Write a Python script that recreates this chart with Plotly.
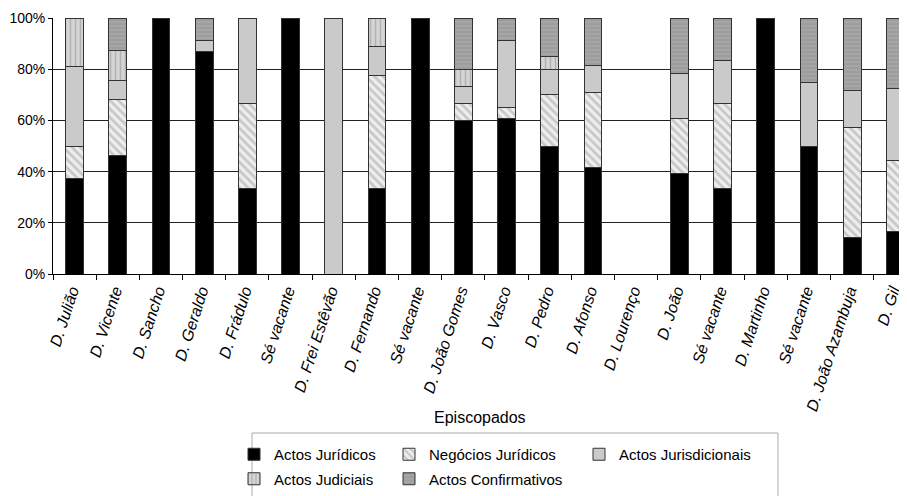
import plotly.graph_objects as go

categories = ["D. Julião", "D. Vicente", "D. Sancho", "D. Geraldo", "D. Frádulo",
              "Sé vacante", "D. Frei Estêvão", "D. Fernando", "Sé vacante", "D. João Gomes",
              "D. Vasco", "D. Pedro", "D. Afonso", "D. Lourenço", "D. João",
              "Sé vacante", "D. Martinho", "Sé vacante", "D. João Azambuja", "D. Gil"]

actos_juridicos =      [37.5, 46.3, 100, 87.0, 33.3, 100, 0, 33.3, 100, 60.0, 60.9, 50.0, 41.7, 0, 39.1, 33.3, 100, 50.0, 14.3, 16.7]
negocios_juridicos =   [12.5, 22.0, 0, 0, 33.3, 0, 0, 44.4, 0, 6.7, 4.3, 20.0, 29.2, 0, 21.7, 33.3, 0, 0, 42.9, 27.8]
actos_jurisdicionais = [31.25, 7.3, 0, 4.3, 33.4, 0, 100, 11.1, 0, 6.7, 26.1, 10.0, 10.4, 0, 17.4, 16.7, 0, 25.0, 14.3, 27.8]
actos_judiciais =      [18.75, 11.6, 0, 0, 0, 0, 0, 11.2, 0, 6.6, 0, 5.0, 0, 0, 0, 0, 0, 0, 0, 0]
actos_confirmativos =  [0, 12.8, 0, 8.7, 0, 0, 0, 0, 0, 20.0, 8.7, 15.0, 18.7, 0, 21.8, 16.7, 0, 25.0, 28.5, 27.7]

x = list(range(len(categories)))
FONT = "Arial, Liberation Sans, sans-serif"
line = dict(color="#333333", width=1)

fig = go.Figure()
fig.add_trace(go.Bar(x=x, y=actos_juridicos, name="Actos Jurídicos", legend="legend",
                     legendgroup="g1", marker=dict(color="#000000", line=line)))
fig.add_trace(go.Bar(x=x, y=negocios_juridicos, name="Negócios Jurídicos", legend="legend2",
                     legendgroup="g2",
                     marker=dict(color="#ffffff", line=line,
                                 pattern=dict(shape="\\", fgcolor="#a0a0a0", bgcolor="#eeeeee",
                                              size=6, solidity=0.45))))
fig.add_trace(go.Bar(x=x, y=actos_jurisdicionais, name="Actos Jurisdicionais", legend="legend3",
                     legendgroup="g3", marker=dict(color="#cacaca", line=line)))
fig.add_trace(go.Bar(x=x, y=actos_judiciais, name="Actos Judiciais", legend="legend",
                     legendgroup="g4",
                     marker=dict(color="#d0d0d0", line=line,
                                 pattern=dict(shape="|", fgcolor="#909090", bgcolor="#d4d4d4",
                                              size=5, solidity=0.3))))
fig.add_trace(go.Bar(x=x, y=actos_confirmativos, name="Actos Confirmativos", legend="legend2",
                     legendgroup="g5",
                     marker=dict(color="#a4a4a4", line=line,
                                 pattern=dict(shape="-", fgcolor="#8e8e8e", bgcolor="#a6a6a6",
                                              size=4, solidity=0.4))))

legend_common = dict(font=dict(family=FONT, size=15, color="#000"), bgcolor="rgba(0,0,0,0)",
                     orientation="v", xanchor="left", yanchor="top", tracegroupgap=2,
                     traceorder="grouped")

# page has an 8px body margin: the figure starts at (8, 8) in the window
OFF = 8
TOP = 18      # page y of the 100% line
BOTTOM = 274  # page y of the 0% line
LEFT = 53
PW = 854.0

def px_x(p):
    return (p - LEFT) / PW

def px_y(p):
    return (BOTTOM - p) / float(BOTTOM - TOP)

fig.update_layout(
    width=907 - OFF, height=496 - OFF,
    margin=dict(l=LEFT - OFF, r=0, t=TOP - OFF, b=496 - BOTTOM),
    paper_bgcolor="white", plot_bgcolor="white",
    barmode="stack", bargap=0.59,
    font=dict(family=FONT, size=14, color="#000"),
    showlegend=True,
    legend=dict(x=px_x(234), y=px_y(438), **legend_common),
    legend2=dict(x=px_x(389), y=px_y(438), **legend_common),
    legend3=dict(x=px_x(579), y=px_y(438), **legend_common),
    xaxis=dict(range=[-0.5, 19.27], tickmode="array", tickvals=x, ticktext=categories,
               tickangle=-72, ticks="", showgrid=False, showline=True, linecolor="#000",
               linewidth=1, tickfont=dict(family=FONT, size=16, color="#000", style="italic"),
               ticklabeloverflow="allow", ticklabelshift=-3,
               minor=dict(tick0=-0.5, dtick=1, ticks="outside", ticklen=5, tickcolor="#000",
                          showgrid=False),
               zeroline=False, automargin=False),
    yaxis=dict(range=[0, 100], dtick=20, ticksuffix="%", showgrid=True, gridcolor="#222",
               gridwidth=1, showline=True, linecolor="#000", linewidth=1, ticks="outside",
               ticklen=4, tickcolor="#000", zeroline=False, automargin=False,
               ticklabeloverflow="allow",
               tickfont=dict(family=FONT, size=14, color="#000")),
    annotations=[dict(text="Episcopados", xref="paper", yref="paper", x=0.5, y=px_y(417),
                      xanchor="center", yanchor="middle", showarrow=False,
                      font=dict(family=FONT, size=16, color="#000"))],
    shapes=[dict(type="rect", xref="paper", yref="paper", x0=px_x(252), x1=px_x(778),
                 y0=px_y(433), y1=px_y(530), line=dict(color="#aaaaaa", width=1),
                 fillcolor="rgba(0,0,0,0)", layer="below")],
)

fig.write_html("out.html")
